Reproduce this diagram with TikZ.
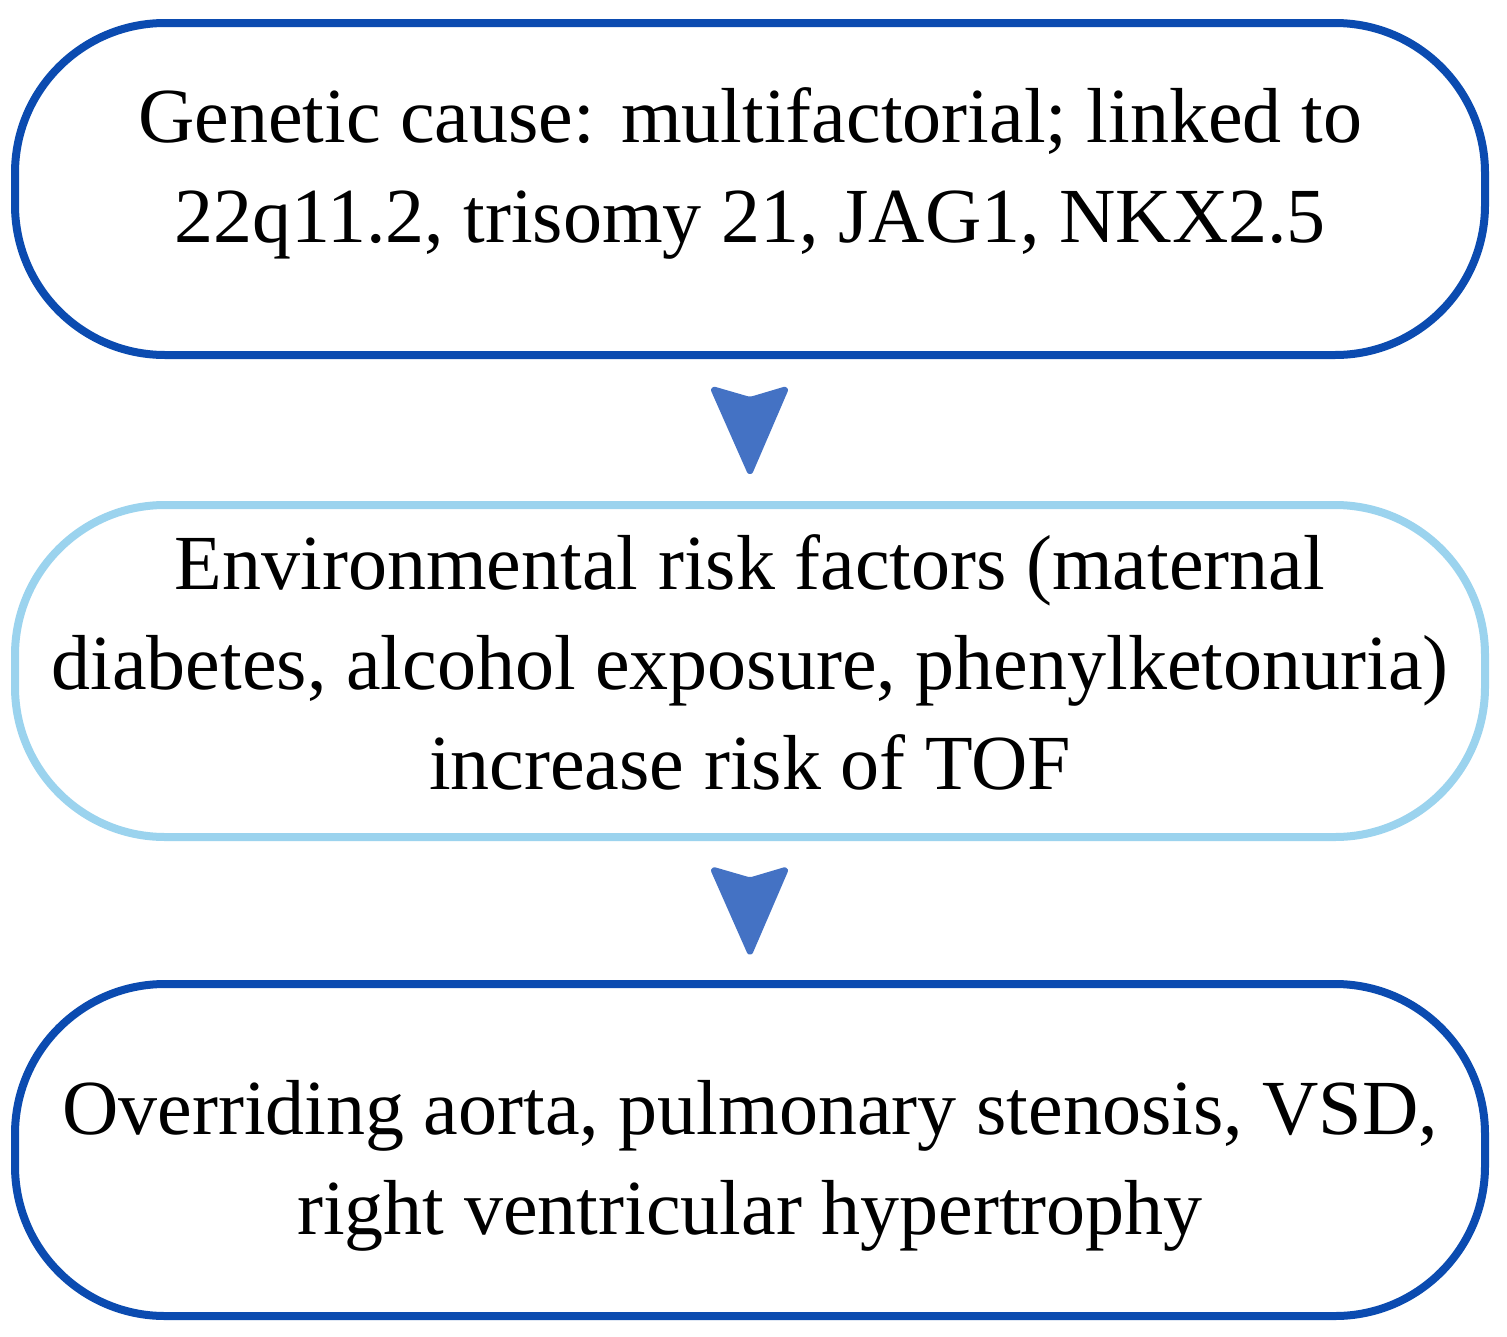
\documentclass[tikz,border=0pt]{standalone}
\usepackage{fontspec}
\setmainfont{Liberation Serif}
\usetikzlibrary{calc}
\definecolor{darkb}{HTML}{0B4BB0}
\definecolor{lightb}{HTML}{9BD3EE}
\definecolor{arrowb}{HTML}{4472C4}
\tikzset{
  pill/.style={draw, line width=8pt, rounded corners=150pt, minimum width=1470pt,
    minimum height=332pt, inner sep=0pt, align=center, fill=white,
    font=\fontsize{78}{100}\selectfont},
  darkpill/.style={pill, draw=darkb},
  lightpill/.style={pill, draw=lightb},
  chevron/.style={fill=arrowb, draw=arrowb, line width=4pt, line join=round, rounded corners=3pt}
}
\begin{document}
\begin{tikzpicture}[x=1pt,y=-1pt]
\useasboundingbox (0,0) rectangle (1507,1336);
\fill[white] (0,0) rectangle (1507,1336);
\node[darkpill, text height=130pt, text depth=24pt] (g) at (750,189) {Genetic cause: multifactorial; linked to\\22q11.2, trisomy 21, JAG1, NKX2.5};
\node[lightpill, text height=260pt, text depth=24pt] (e) at (750,671) {Environmental risk factors (maternal\\diabetes, alcohol exposure, phenylketonuria)\\increase risk of TOF};
\node[darkpill, text height=192pt, text depth=24pt] (o) at (750,1150) {Overriding aorta, pulmonary stenosis, VSD,\\right ventricular hypertrophy};
\coordinate (m1) at ($(g.south)!0.5!(e.north)$);
\coordinate (m2) at ($(e.south)!0.5!(o.north)$);
\draw[chevron] ($(m1)+(-38,-42)$) -- ($(m1)+(0,-31)$) -- ($(m1)+(37,-42)$) -- ($(m1)+(0,44)$) -- cycle;
\draw[chevron] ($(m2)+(-38,-42)$) -- ($(m2)+(0,-31)$) -- ($(m2)+(37,-42)$) -- ($(m2)+(0,44)$) -- cycle;
\end{tikzpicture}
\end{document}
